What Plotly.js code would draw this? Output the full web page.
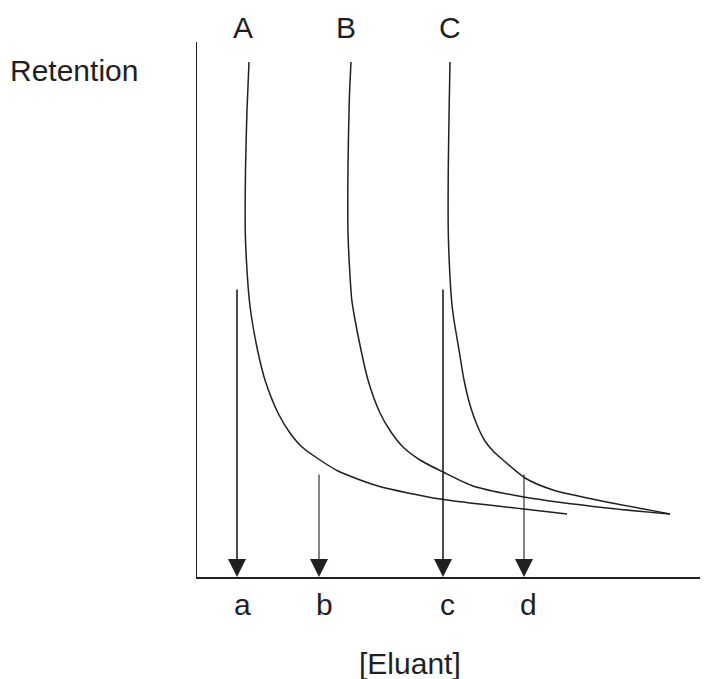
<!DOCTYPE html>
<html>
<head>
<meta charset="utf-8">
<script src="https://cdn.plot.ly/plotly-3.0.1.min.js"></script>
<style>html,body{margin:0;padding:0;background:#fff;}#chart{width:705px;height:679px;}</style>
</head>
<body>
<div id="chart"></div>
<script>
// Curve A (retention vs eluant concentration)
const curveA_x = [1.04, 1.00, 0.97, 0.966, 0.996, 1.046, 1.09, 1.21, 1.36, 1.62, 1.86, 2.10, 2.46, 2.82, 3.62, 4.86, 6.54, 7.40];
const curveA_y = [10.30, 9.34, 8.14, 6.88, 6.20, 5.54, 5.20, 4.54, 3.94, 3.28, 2.88, 2.60, 2.34, 2.12, 1.82, 1.56, 1.36, 1.26];
// Curve B
const curveB_x = [3.08, 3.046, 3.02, 3.02, 3.05, 3.096, 3.15, 3.28, 3.42, 3.66, 3.88, 4.12, 4.46, 4.92, 5.52, 6.54, 8.20, 9.46];
const curveB_y = [10.30, 9.54, 8.20, 6.88, 6.20, 5.54, 5.20, 4.54, 3.94, 3.28, 2.90, 2.60, 2.34, 2.10, 1.82, 1.60, 1.38, 1.26];
// Curve C
const curveC_x = [5.06, 5.046, 5.026, 5.026, 5.05, 5.09, 5.13, 5.24, 5.34, 5.46, 5.60, 5.76, 5.92, 6.12, 6.56, 7.12, 8.00, 9.46];
const curveC_y = [10.30, 9.54, 8.20, 6.88, 6.20, 5.54, 5.20, 4.54, 3.94, 3.44, 3.04, 2.72, 2.52, 2.34, 1.98, 1.74, 1.54, 1.26];

const curveLabels = ["A", "B", "C"];
const curveLabelX = [0.92, 2.98, 5.06];

// Eluant concentration arrows
const arrowLabels = ["a", "b", "c", "d"];
const arrowX = [0.80, 2.44, 4.92, 6.54];
const arrowTop = [5.78, 2.08, 5.78, 2.08];
const arrowLabelX = [0.90, 2.54, 5.00, 6.62];

const ink = "#231f20";
const FONT = "Liberation Sans, Arial, sans-serif";
const FS = 30;

function curve(x, y) {
  return {x: x, y: y, type: "scatter", mode: "lines",
          line: {color: ink, width: 1.5, shape: "spline", smoothing: 0.7},
          hoverinfo: "skip", showlegend: false};
}

const data = [curve(curveA_x, curveA_y), curve(curveB_x, curveB_y), curve(curveC_x, curveC_y)];

const annotations = [];
arrowX.forEach((x, i) => {
  const w = (i % 2 === 0) ? 1.6 : 1.1;
  annotations.push({x: x, y: 0, xref: "x", yref: "y", ax: x, ay: arrowTop[i], axref: "x", ayref: "y",
    text: "", showarrow: true, arrowhead: 2, arrowsize: 3.6 / w, arrowwidth: w, arrowcolor: ink, standoff: 0});
  annotations.push({x: arrowLabelX[i], y: -0.052, xref: "x", yref: "paper", text: arrowLabels[i],
    showarrow: false, xanchor: "center", yanchor: "middle", font: {family: FONT, size: FS, color: ink}});
});
curveLabels.forEach((t, i) => {
  annotations.push({x: curveLabelX[i], y: 1.028, xref: "x", yref: "paper", text: t,
    showarrow: false, xanchor: "center", yanchor: "middle", font: {family: FONT, size: FS, color: ink}});
});
annotations.push({x: -0.376, y: 0.946, xref: "paper", yref: "paper", text: "Retention",
  showarrow: false, xanchor: "left", yanchor: "middle", font: {family: FONT, size: FS, color: ink}});
annotations.push({x: 0.423, y: -0.161, xref: "paper", yref: "paper", text: "[Eluant]",
  showarrow: false, xanchor: "center", yanchor: "middle", font: {family: FONT, size: FS, color: ink}});

const layout = {
  width: 705, height: 679,
  margin: {l: 197, r: 5, t: 42, b: 102, pad: 0},
  paper_bgcolor: "#fff", plot_bgcolor: "#fff",
  showlegend: false,
  xaxis: {range: [0, 10.06], showline: true, linecolor: ink, linewidth: 1.5, showgrid: false,
          zeroline: false, showticklabels: false, ticks: "", fixedrange: true},
  yaxis: {range: [0, 10.7], showline: true, linecolor: ink, linewidth: 1.5, showgrid: false,
          zeroline: false, showticklabels: false, ticks: "", fixedrange: true},
  annotations: annotations
};

Plotly.newPlot("chart", data, layout, {staticPlot: true, displayModeBar: false});
</script>
</body>
</html>
